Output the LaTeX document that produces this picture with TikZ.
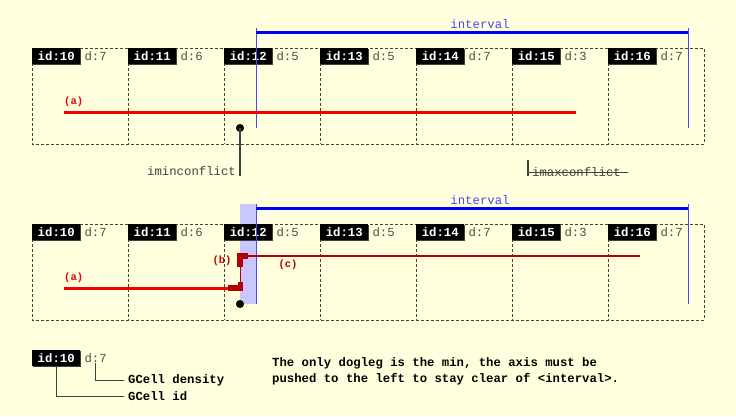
\documentclass[tikz,border=0pt]{standalone}
\usepackage{fontspec}
\setmainfont{Liberation Mono}
\usetikzlibrary{positioning}

\definecolor{paper}{HTML}{FFFFDD}
\definecolor{gridgray}{HTML}{404040}
\definecolor{densgray}{HTML}{505050}
\definecolor{ivblue}{HTML}{0000F0}
\definecolor{ivlabel}{HTML}{4848FF}
\definecolor{ivshade}{HTML}{C8C8FF}
\definecolor{segred}{HTML}{F00000}
\definecolor{dogred}{HTML}{B40000}

\newcommand{\monofont}{\fontsize{12.3}{16}\selectfont}

\tikzset{
  gcell/.style={draw=gridgray, dash pattern=on 3pt off 2pt, line width=0.8pt},
  idbox/.style={fill=black, text=white, font=\monofont\bfseries,
    minimum width=48pt, minimum height=16pt, inner sep=0pt, anchor=north west,
    preaction={fill=gridgray, transform canvas={shift={(1pt,-1pt)}}}},
  density/.style={text=densgray, font=\monofont, inner sep=0pt, anchor=west},
  ivline/.style={draw=ivblue, line width=3pt},
  ivside/.style={draw=ivlabel, line width=1pt},
  ivtext/.style={text=ivlabel, font=\monofont, inner sep=0pt, anchor=base},
  wirea/.style={draw=segred, line width=3pt},
  wirec/.style={draw=dogred, line width=2.5pt},
  seglabel/.style={font=\fontsize{10.5}{12}\selectfont\bfseries, inner sep=0pt},
  conflictdot/.style={circle, fill=black, minimum size=8pt, inner sep=0pt},
  leader/.style={draw=gridgray, line width=1.5pt},
  legline/.style={draw=gridgray, line width=1pt},
  note/.style={font=\monofont\bfseries, inner sep=0pt},
}

\begin{document}
\begin{tikzpicture}[x=1pt, y=-1pt]
  \useasboundingbox[fill=paper] (0,0) rectangle (736,416);

  % blocked area in front of the dogleg
  \fill[ivshade] (240,204) rectangle (256,304);

  % gcell rows
  \foreach \py/\pn in {48/top,224/bot} {
    \draw[gcell] (32,\py) rectangle (704,\py+96);
    \foreach \id/\d [count=\k from 0] in {10/7,11/6,12/5,13/5,14/7,15/3,16/7} {
      \draw[gcell] (32+96*\k,\py) -- (32+96*\k,\py+96);
      \node[idbox] (id\id\pn) at (32+96*\k,\py) {id:\id};
      \node[density, right=4pt of id\id\pn] (d\id\pn) {d:\d};
    }
  }

  % intervals
  \foreach \py/\pn in {0/top,176/bot} {
    \coordinate (ivl\pn) at (256,\py+32);
    \coordinate (ivr\pn) at (688,\py+32);
    \draw[ivside] (256,\py+28) -- (256,\py+128);
    \draw[ivside] (688,\py+28) -- (688,\py+128);
    \draw[ivline] (ivl\pn) -- (ivr\pn);
    \node[ivtext] (ivlbl\pn) at (480,\py+28) {interval};
  }

  % before: segment (a) only
  \coordinate (a1) at (64,112);
  \coordinate (a2) at (576,112);
  \draw[wirea] (a1) -- (a2);
  \node[seglabel, text=segred, anchor=base west] (lbla) at (64,104) {(a)};

  \node[conflictdot] (imin) at (240,128) {};
  \coordinate (iminend) at (240,176);
  \draw[leader] (imin.center) -- (iminend);
  \node[text=gridgray, font=\monofont, inner sep=0pt, anchor=base east] (iminlbl) at (236,175.5) {iminconflict};

  \coordinate (imax) at (528,160);
  \coordinate (imaxend) at (528,176);
  \draw[leader] (imax) -- (imaxend);
  \node[text=gridgray, font=\monofont, inner sep=0pt, anchor=base west] (imaxlbl) at (532,176) {imaxconflict};
  \draw[gridgray, line width=1pt] (528,172) -- (628,172);

  % after: dogleg (b) and segment (c)
  \coordinate (b1) at (236,288);
  \coordinate (c1) at (243,256);
  \coordinate (c2) at (640,256);
  \draw[wirea] (64,288) -- (b1);
  \draw[wirec] (c1) -- (c2);
  \fill[dogred] (237,253) rectangle (248,258.5);
  \fill[dogred] (237,258) rectangle (243,267);
  \draw[dogred, line width=1.5pt] (240.5,266) -- (240.5,283);
  \fill[dogred] (238,282) rectangle (243,290);
  \fill[dogred] (228,285) rectangle (243,290.5);
  \node[seglabel, text=segred, anchor=base west] (lbla2) at (64,280) {(a)};
  \node[seglabel, text=dogred] (lblb) at (222,261) {(b)};
  \node[seglabel, text=dogred] (lblc) at (288,265) {(c)};

  \node[conflictdot] (imin2) at (240,304) {};

  % legend
  \node[idbox] (legid) at (32,350) {id:10};
  \node[density, right=4pt of legid] (legd) {d:7};
  \node[note, anchor=west] (legdens) at (128,380) {GCell density};
  \node[note, anchor=west] (legcell) at (128,396) {GCell id};
  \draw[legline] (legd.south) |- ([xshift=-4pt]legdens.west);
  \draw[legline] (legid.south) |- ([xshift=-4pt]legcell.west);

  \node[note, anchor=north west, align=left] (remark) at (272,357)
    {The only dogleg is the min, the axis must be\\
     pushed to the left to stay clear of <interval>.};
\end{tikzpicture}
\end{document}
